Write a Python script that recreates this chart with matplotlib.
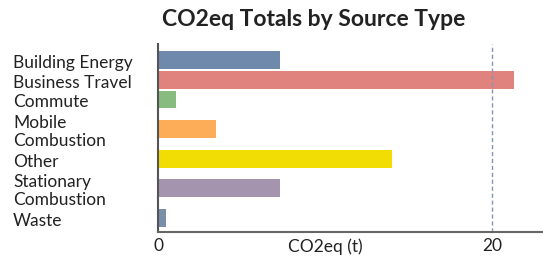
import matplotlib
matplotlib.use("Agg")
import matplotlib.pyplot as plt
import matplotlib.transforms as mtransforms
import numpy as np

plt.rcParams['font.family'] = ['Lato', 'DejaVu Sans']

categories = ["Building Energy", "Business Travel", "Commute", "Mobile\nCombustion",
              "Other", "Stationary\nCombustion", "Waste"]
values = [7.3, 21.3, 1.1, 3.5, 14.0, 7.3, 0.5]
colors = ["#6f89ad", "#e0837e", "#87bb7f", "#fdad57", "#f1dc03", "#a594ad", "#7a8eaa"]
xticks = [0, 20]
xtick_labels = ["0", "20"]
ref_line = 20

DPI = 100
# positions: bars centred on their label block; spacing follows label line counts
lines = [c.count("\n") + 1 for c in categories]
pos = [0.0]
for i in range(1, len(lines)):
    pos.append(pos[-1] + (lines[i - 1] + lines[i]) / 2)
pos = np.array(pos)

fig = plt.figure(figsize=(5.43, 2.56), dpi=DPI)
ax = fig.add_axes([158 / 543, 24 / 256, 1 - 158 / 543, (232 - 44) / 256])

ax.barh(pos, values, height=0.9, color=colors)
ax.set_ylim(pos[-1] + 0.71, -0.81)
ax.set_xlim(0, 23.05)
ax.axvline(ref_line, color="#7f97bb", linestyle=(0, (3, 2)), linewidth=1)

for s in ["top", "right"]:
    ax.spines[s].set_visible(False)
ax.spines["left"].set_color("#555555")
ax.spines["left"].set_linewidth(1.5)
ax.spines["bottom"].set_color("#666666")
ax.spines["bottom"].set_linewidth(1.5)

ax.set_yticks([])
ax.set_xticks(xticks)
ax.set_xticklabels(xtick_labels, fontsize=12.5, color="#222222")
ax.tick_params(axis="x", length=0, pad=4)

xl_trans = mtransforms.blended_transform_factory(ax.transData, ax.transAxes)
ax.text(10, -0.034, "CO2eq (t)", transform=xl_trans, ha="center", va="top",
        fontsize=12.5, color="#222222")

pitch = 18.6  # px between label lines
base = mtransforms.blended_transform_factory(fig.transFigure, ax.transData)
for p, c in zip(pos, categories):
    parts = c.split("\n")
    n = len(parts)
    for k, part in enumerate(parts):
        dy_px = -(7.8 + (k - (n - 1) / 2) * pitch)
        tr = base + mtransforms.ScaledTranslation(0, dy_px / DPI, fig.dpi_scale_trans)
        ax.text(13 / 543, p, part, transform=tr, ha="left", va="baseline",
                fontsize=12.5, color="#222222")

fig.text(314 / 543, 1 - 20 / 256, "CO2eq Totals by Source Type", ha="center", va="center",
         fontsize=16.5, fontweight="bold", color="#222222")

fig.savefig("out.png", dpi=DPI)
